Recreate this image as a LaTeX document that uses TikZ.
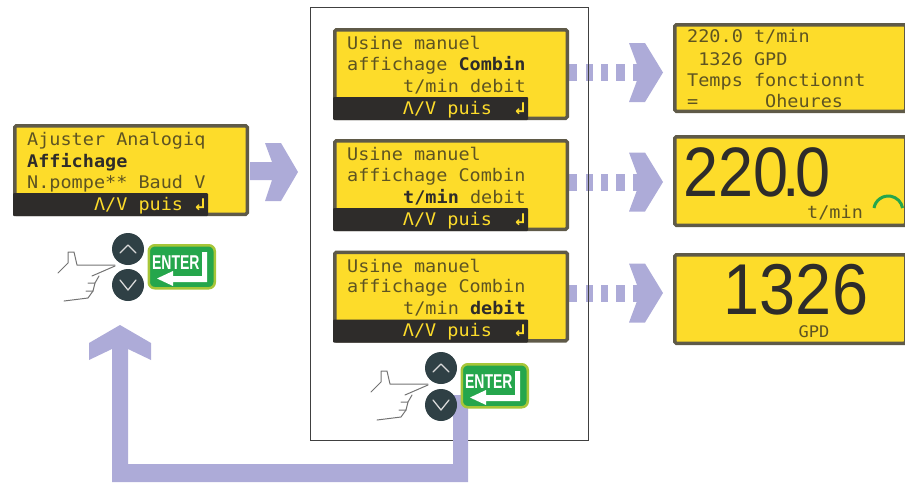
\documentclass[tikz,border=0pt]{standalone}
\usepackage{fontspec}
\setmainfont{Liberation Sans}
\newfontfamily\lcd{DejaVu Sans Mono}
\definecolor{lcdy}{HTML}{FDDC2A}
\definecolor{lcdb}{HTML}{5F5A48}
\definecolor{barb}{HTML}{2E2C2A}
\definecolor{lcdt}{HTML}{5E5422}
\definecolor{arr}{HTML}{ADABD8}
\definecolor{btn}{HTML}{2F4045}
\definecolor{entg}{HTML}{25A64C}
\newcommand{\bd}[1]{{\bfseries\color{barb}#1}}
\tikzset{
 panel/.style={draw=lcdb,line width=3.5pt,fill=lcdy,rounded corners=1.5pt,inner sep=0pt},
 lcdline/.style={anchor=base west,inner sep=0pt,font=\lcd\fontsize{18.5}{18.5}\selectfont,text=lcdt,yscale=.94},
 barline/.style={anchor=base west,inner sep=0pt,font=\lcd\fontsize{18.5}{18.5}\selectfont,text=lcdy,yscale=.94},
 pale/.style={fill=arr,draw=none},
 keyb/.style={circle,fill=btn,minimum size=32pt,inner sep=0pt},
 hand/.style={draw=black!55,line width=1pt,line cap=round,line join=round},
 chev/.style={draw=white!85!black,line width=1.3pt,line cap=round,line join=round},
}
\newcommand{\lcdbox}[6]{% name,x,y,w,h,barw
 \node[panel,minimum width=#4pt,minimum height=#5pt,anchor=north west] (#1) at (#2,#3) {};
 \fill[barb,rounded corners=1pt] (#2,#3+#5-19.5) rectangle (#2+#6,#3+#5+3.5);
}
\newcommand{\dotarrow}[2]{% name, y
 \coordinate (#1) at (570,#2);
 \foreach \a/\b in {568/577,586/593,601/608,616/625,633/642}{\fill[arr] (\a,#2-8.5) rectangle (\b,#2+8.5);}
 \fill[arr] (629,#2-29.5)--(645,#2-29.5)--(663,#2)--(645,#2+29.5)--(629,#2+29.5)--(640,#2)--cycle;
}
\newcommand{\keypad}[4]{% prefix,x,y,spacing (x,y centre of up key)
 \node[keyb] (#1up) at (#2,#3) {};
 \node[keyb] (#1dn) at (#2,#3+#4) {};
 \draw[chev] (#2-8,#3+4)--(#2,#3-4)--(#2+8,#3+4);
 \draw[chev] (#2-8,#3+#4-5)--(#2,#3+#4+5)--(#2+8,#3+#4-5);
 \node[fill=entg,draw=lcdy!60!entg,line width=2.5pt,rounded corners=6pt,minimum width=66pt,minimum height=43pt,inner sep=0pt,anchor=north west] (#1ent) at (#2+19.5,#3-5) {};
 \node[anchor=base west,inner sep=0pt,text=white,font=\fontsize{20}{20}\selectfont\bfseries,xscale=.7] (#1txt) at (#2+24,#3+20) {ENTER};
 \fill[white] (#2+74,#3+3)--(#2+79,#3+3)--(#2+79,#3+33)--(#2+45,#3+33)--(#2+45,#3+37)--(#2+29,#3+29.5)--(#2+45,#3+22)--(#2+45,#3+27)--(#2+74,#3+27)--cycle;
 \draw[hand] (#2-13,#3+16)--(#2-51,#3+16)--(#2-54,#3+3)--(#2-60,#3+3)--(#2-60,#3+14)--(#2-70,#3+24);
 \draw[hand] (#2-13,#3+17)--(#2-36,#3+27);
 \draw[hand] (#2-29,#3+27)--(#2-33,#3+34)--(#2-40,#3+34);
 \draw[hand] (#2-33,#3+34)--(#2-35,#3+42)--(#2-42,#3+42);
 \draw[hand] (#2-35,#3+42)--(#2-40,#3+49)--(#2-64,#3+52);
}
\begin{document}
\begin{tikzpicture}[x=1pt,y=-1pt]
\useasboundingbox (0,0) rectangle (905,482);
\dotarrow{dA}{72.5}
\dotarrow{dB}{182}
\dotarrow{dC}{293}
% frame
\node[draw=black!75,line width=1.3pt,minimum width=278pt,minimum height=433pt,anchor=north west,inner sep=0pt] (frame) at (310,7) {};
% big return arrow
\fill[pale] (453,395)--(468,395)--(468,482)--(112,482)--(112,349)--(89,360)--(89,343)--(120,325)--(151,343)--(151,360)--(128,349)--(128,464)--(453,464)--cycle;
% left panel
\lcdbox{L}{13}{124}{232.5}{88.5}{195}
\node[lcdline] (l1) at (27,145) {Ajuster Analogiq};
\node[lcdline] (l2) at (27,167) {\bd{Affichage}};
\node[lcdline] (l3) at (27,188) {N.pompe** Baud V};
\node[barline] (l4) at (27,210) {~~~~~~Λ/V puis \textbf{↲}};
% main arrow
\fill[pale] (250,162)--(272,162)--(265,143)--(281,143)--(298,172)--(281,201)--(265,201)--(272,180)--(250,180)--cycle;
% middle panels
\foreach \n/\y/\a/\b in {
 A/28/{affichage \bd{Combin}}/{t/min debit},
 B/139/{affichage Combin}/{\bd{t/min} debit},
 C/250.5/{affichage Combin}/{t/min \bd{debit}}}{
 \lcdbox{\n}{333}{\y}{232.5}{88.5}{195}
 \node[lcdline] (\n1) at (347,\y+21.5) {Usine manuel};
 \node[lcdline] (\n2) at (347,\y+42) {\a};
 \node[lcdline] (\n3) at (403,\y+64) {\b};
 \node[barline] (\n4) at (347,\y+86) {~~~~~Λ/V puis ~\textbf{↲}};
}
% right panels
\node[panel,minimum width=231pt,minimum height=86.5pt,anchor=north west] (R1) at (673,23) {};
\node[lcdline] (r1) at (687,42) {220.0 t/min};
\node[lcdline] (r2) at (687,65) {~1326 GPD};
\node[lcdline] (r3) at (687,86) {Temps fonctionnt};
\node[lcdline] (r4) at (687,107) {= ~~~~~Oheures};
\node[panel,minimum width=231pt,minimum height=88.5pt,anchor=north west] (R2) at (673,135) {};
\node[anchor=base west,inner sep=0pt,font=\fontsize{70}{70}\selectfont,text=barb,xscale=.9] (r5) at (683,196) {220\kern-6pt.\kern-6pt0};
\node[lcdline] (r6) at (807,218) {t/min};
\draw[entg,line width=3pt] (874,208) arc[start angle=170,end angle=10,radius=14.5pt];
\node[panel,minimum width=231pt,minimum height=88.5pt,anchor=north west] (R3) at (673,253) {};
\node[anchor=base,inner sep=0pt,font=\fontsize{72}{72}\selectfont,text=barb,xscale=.9] (r7) at (796,314) {1326};
\node[lcdline,anchor=base,font=\lcd\fontsize{17}{17}\selectfont] (r8) at (814,337) {GPD};
% keypads
\keypad{ka}{128}{249}{36}
\keypad{kb}{441}{368}{37}
\end{tikzpicture}
\end{document}
